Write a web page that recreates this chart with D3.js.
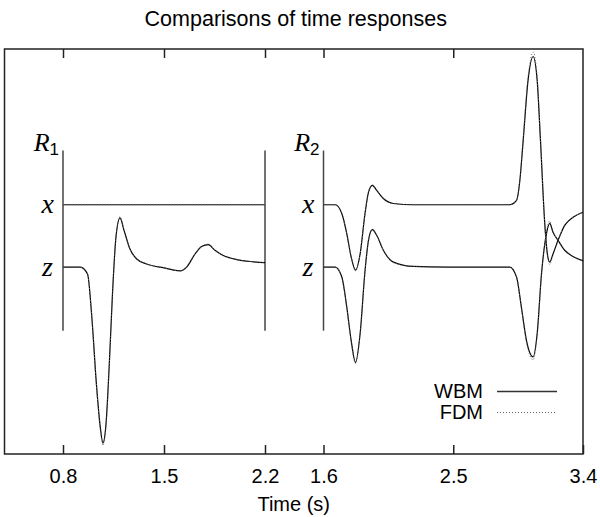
<!DOCTYPE html>
<html>
<head>
<meta charset="utf-8">
<script src="https://cdnjs.cloudflare.com/ajax/libs/d3/7.8.5/d3.min.js"></script>
<style>
  body { margin: 0; background: #fff; }
  text { font-family: "Liberation Sans", Arial, sans-serif; fill: #000; }
  .sym { font-family: "Liberation Serif", "Times New Roman", serif; font-style: italic; }
</style>
</head>
<body>
<div id="chart-area"></div>
<script>
// Left panel (R1) time axis and responses
var tL = [0.80, 0.92, 0.97, 1.00, 1.03, 1.056, 1.077, 1.098, 1.121, 1.144, 1.167, 1.195, 1.223, 1.264,
          1.311, 1.38, 1.495, 1.611, 1.657, 1.715, 1.761, 1.807, 1.853, 1.911, 2.004, 2.119, 2.20];
var zL_wbm = [0, 0, -0.11, -0.81, -1.83, -2.52, -2.82, -2.52, -1.55, -0.38, 0.48, 0.79, 0.59, 0.29,
              0.13, 0.05, -0.01, -0.06, 0.0, 0.21, 0.33, 0.36, 0.27, 0.185, 0.12, 0.085, 0.07];
var zL_fdm = [0, 0, -0.11, -0.82, -1.85, -2.55, -2.86, -2.55, -1.57, -0.38, 0.49, 0.81, 0.60, 0.29,
              0.13, 0.05, -0.01, -0.06, 0.0, 0.21, 0.33, 0.37, 0.27, 0.185, 0.12, 0.085, 0.07];
var tLx = [0.80, 2.20];
var xL_wbm = [1, 1];
var xL_fdm = [1, 1];

// Right panel (R2)
var tRx = [1.60, 1.681, 1.727, 1.762, 1.792, 1.822, 1.854, 1.888, 1.912, 1.939, 1.969, 2.015, 2.085,
           2.223, 2.454, 2.892, 2.939, 2.962, 2.985, 3.019, 3.054, 3.082, 3.105, 3.135, 3.153, 3.169,
           3.192, 3.227, 3.273, 3.331, 3.40];
var xR_wbm = [1, 1, 0.86, 0.53, 0.16, -0.05, 0.21, 0.86, 1.20, 1.31, 1.23, 1.10, 1.02,
              1.0, 1.0, 1.0, 1.07, 1.39, 2.03, 3.0, 3.38, 3.0, 2.03, 0.69, 0.21, 0.08,
              0.21, 0.43, 0.67, 0.80, 0.88];
var xR_fdm = [1, 1, 0.86, 0.53, 0.16, -0.06, 0.21, 0.86, 1.21, 1.32, 1.23, 1.10, 1.02,
              1.0, 1.0, 1.0, 1.07, 1.40, 2.06, 3.05, 3.45, 3.05, 2.05, 0.68, 0.18, 0.04,
              0.19, 0.43, 0.67, 0.80, 0.88];
var tRz = [1.60, 1.681, 1.727, 1.762, 1.792, 1.822, 1.854, 1.888, 1.912, 1.939, 1.969, 2.015, 2.085,
           2.223, 2.454, 2.892, 2.939, 2.973, 3.008, 3.054, 3.082, 3.112, 3.146, 3.169, 3.192, 3.227,
           3.273, 3.331, 3.40];
var zR_wbm = [0, 0, -0.16, -0.65, -1.18, -1.53, -1.07, -0.06, 0.43, 0.60, 0.51, 0.27, 0.08,
              0.01, 0, 0, -0.16, -0.65, -1.18, -1.44, -1.07, -0.11, 0.53, 0.70, 0.56, 0.43,
              0.27, 0.17, 0.10];
var zR_fdm = [0, 0, -0.16, -0.66, -1.20, -1.55, -1.08, -0.06, 0.43, 0.61, 0.51, 0.27, 0.08,
              0.01, 0, 0, -0.16, -0.66, -1.21, -1.49, -1.10, -0.12, 0.55, 0.74, 0.57, 0.43,
              0.27, 0.17, 0.10];

var ticksL = [0.8, 1.5, 2.2];
var ticksR = [1.6, 2.5, 3.4];
var series = ["WBM", "FDM"];

var width = 600, height = 517;
var frame = {left: 4.5, right: 583, top: 49, bottom: 454};

var svg = d3.select("#chart-area")
    .append("svg")
    .attr("width", width)
    .attr("height", height);

var xL = d3.scaleLinear().domain([0.8, 2.2]).range([63, 265]);
var xR = d3.scaleLinear().domain([1.6, 3.4]).range([323.5, 583]);
var y = d3.scaleLinear().domain([-3, 3.5]).range([frame.bottom, frame.top]);

// frame
svg.append("rect")
    .attr("x", frame.left)
    .attr("y", frame.top)
    .attr("width", frame.right - frame.left)
    .attr("height", frame.bottom - frame.top)
    .attr("fill", "none")
    .attr("stroke", "#222")
    .attr("stroke-width", 1.5);

// ticks on bottom and top, pointing inward
function drawTicks(scale, ticks) {
    var bottom = svg.append("g")
        .attr("transform", "translate(0," + frame.bottom + ")")
        .call(d3.axisBottom(scale).tickValues(ticks).tickSize(-9).tickPadding(13)
            .tickFormat(d3.format(".1f")));
    bottom.select(".domain").remove();
    bottom.selectAll("line").attr("stroke", "#222").attr("stroke-width", 1.5);
    bottom.selectAll("text").attr("font-size", 20).attr("dy", 0).attr("y", 29)
        .style("font-family", "'Liberation Sans', Arial, sans-serif");

    var top = svg.append("g")
        .attr("transform", "translate(0," + frame.top + ")")
        .call(d3.axisTop(scale).tickValues(ticks.filter(function(d) { return scale(d) < frame.right - 2; }))
            .tickSize(-9).tickFormat(""));
    top.select(".domain").remove();
    top.selectAll("line").attr("stroke", "#222").attr("stroke-width", 1.5);
}
drawTicks(xL, ticksL);
drawTicks(xR, ticksR);

// inner vertical axes
var axisLines = [xL(0.8), xL(2.2), xR(1.6)];
svg.selectAll(".vaxis")
    .data(axisLines)
    .enter().append("line")
    .attr("class", "vaxis")
    .attr("x1", function(d) { return d; })
    .attr("x2", function(d) { return d; })
    .attr("y1", y(1.87))
    .attr("y2", y(-1.02))
    .attr("stroke", "#444")
    .attr("stroke-width", 1.5);

// panel labels
function panelLabels(ax, sub) {
    var r = svg.append("text")
        .attr("class", "sym")
        .attr("x", ax - 4)
        .attr("y", 151)
        .attr("text-anchor", "end")
        .attr("font-size", 26)
        .text("R");
    r.append("tspan")
        .attr("dy", 4)
        .attr("font-size", 17)
        .style("font-style", "normal")
        .style("font-family", "'Liberation Sans', Arial, sans-serif")
        .text(sub);
    svg.append("text").attr("class", "sym")
        .attr("x", ax - 9).attr("y", y(1) + 8)
        .attr("text-anchor", "end").attr("font-size", 28).text("x");
    svg.append("text").attr("class", "sym")
        .attr("x", ax - 10).attr("y", y(0) + 9)
        .attr("text-anchor", "end").attr("font-size", 28).text("z");
}
panelLabels(xL(0.8), "1");
panelLabels(xR(1.6), "2");

// curves
function drawCurve(xs, ts, vs, kind) {
    var pts = ts.map(function(t, i) { return [t, vs[i]]; });
    var line = d3.line()
        .x(function(d) { return xs(d[0]); })
        .y(function(d) { return y(d[1]); })
        .curve(d3.curveMonotoneX);
    var p = svg.append("path")
        .datum(pts)
        .attr("d", line)
        .attr("fill", "none");
    if (kind === "WBM") {
        p.attr("stroke", "#000").attr("stroke-width", 1.2);
    } else {
        p.attr("stroke", "#666").attr("stroke-width", 1).attr("stroke-dasharray", "1,2");
    }
}
drawCurve(xL, tLx, xL_wbm, "WBM");
drawCurve(xL, tL, zL_wbm, "WBM");
drawCurve(xR, tRx, xR_wbm, "WBM");
drawCurve(xR, tRz, zR_wbm, "WBM");
drawCurve(xL, tLx, xL_fdm, "FDM");
drawCurve(xL, tL, zL_fdm, "FDM");
drawCurve(xR, tRx, xR_fdm, "FDM");
drawCurve(xR, tRz, zR_fdm, "FDM");

// legend
var leg = svg.selectAll(".legend")
    .data(series)
    .enter().append("g")
    .attr("class", "legend")
    .attr("transform", function(d, i) { return "translate(0," + (398 + i * 21) + ")"; });
leg.append("text")
    .attr("x", 483)
    .attr("text-anchor", "end")
    .attr("font-size", 20)
    .text(function(d) { return d; });
leg.append("line")
    .attr("x1", 497).attr("x2", 557)
    .attr("y1", -6.5).attr("y2", -6.5)
    .attr("stroke", function(d) { return d === "WBM" ? "#333" : "#666"; })
    .attr("stroke-width", function(d) { return d === "WBM" ? 1.5 : 1; })
    .attr("stroke-dasharray", function(d) { return d === "WBM" ? null : "1,2"; });

// title and axis label
svg.append("text")
    .attr("x", (frame.left + frame.right) / 2 + 2)
    .attr("y", 26)
    .attr("text-anchor", "middle")
    .attr("font-size", 21.5)
    .text("Comparisons of time responses");

svg.append("text")
    .attr("x", (frame.left + frame.right) / 2)
    .attr("y", 511)
    .attr("text-anchor", "middle")
    .attr("font-size", 20)
    .text("Time (s)");
</script>
</body>
</html>
